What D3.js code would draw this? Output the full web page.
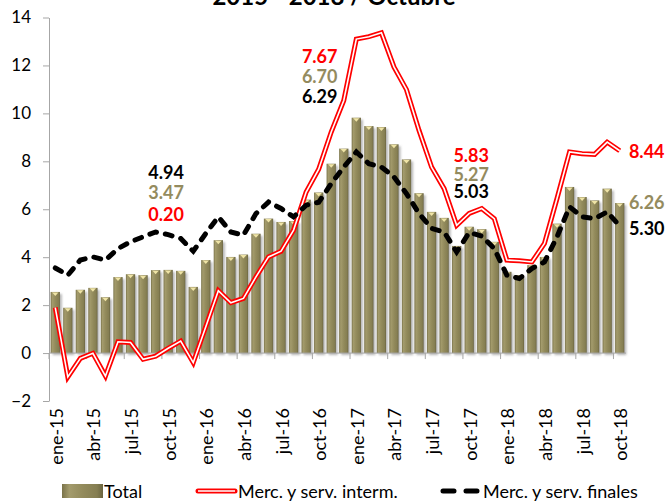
<!DOCTYPE html>
<html>
<head>
<meta charset="utf-8">
<script src="https://cdn.jsdelivr.net/npm/d3@7"></script>
<style>
    body { margin: 0; background: #fff; }
    svg { display: block; font-family: Lato, "Noto Sans", sans-serif; }
    .axis path, .axis line { stroke: #a6a6a6; }
    .axis text { fill: #000; }
</style>
</head>
<body>
<div id="view"></div>
<script>
const categories = [
    'ene-15', 'feb-15', 'mar-15', 'abr-15', 'may-15', 'jun-15', 'jul-15', 'ago-15', 'sep-15', 'oct-15', 'nov-15', 'dic-15',
    'ene-16', 'feb-16', 'mar-16', 'abr-16', 'may-16', 'jun-16', 'jul-16', 'ago-16', 'sep-16', 'oct-16', 'nov-16', 'dic-16',
    'ene-17', 'feb-17', 'mar-17', 'abr-17', 'may-17', 'jun-17', 'jul-17', 'ago-17', 'sep-17', 'oct-17', 'nov-17', 'dic-17',
    'ene-18', 'feb-18', 'mar-18', 'abr-18', 'may-18', 'jun-18', 'jul-18', 'ago-18', 'sep-18', 'oct-18'
];
const tickLabels = ['ene-15', 'abr-15', 'jul-15', 'oct-15', 'ene-16', 'abr-16', 'jul-16', 'oct-16',
    'ene-17', 'abr-17', 'jul-17', 'oct-17', 'ene-18', 'abr-18', 'jul-18', 'oct-18'];
const yTicks = [-2, 0, 2, 4, 6, 8, 10, 12, 14];

const total = [
    2.55, 1.89, 2.64, 2.72, 2.33, 3.17, 3.29, 3.25, 3.46, 3.47, 3.43, 2.76,
    3.88, 4.71, 4.01, 4.11, 4.98, 5.61, 5.47, 5.51, 6.40, 6.70, 7.90, 8.53,
    9.82, 9.47, 9.43, 8.71, 8.08, 6.67, 5.89, 5.64, 4.47, 5.27, 5.17, 4.64,
    3.39, 3.25, 3.67, 4.01, 5.40, 6.93, 6.51, 6.37, 6.86, 6.26
];
const interm = [
    1.90, -1.00, -0.22, -0.01, -0.96, 0.47, 0.44, -0.26, -0.13, 0.20, 0.50, -0.40,
    1.10, 2.60, 2.10, 2.28, 3.18, 4.01, 4.25, 5.13, 6.72, 7.67, 9.22, 10.54,
    13.10, 13.20, 13.36, 11.94, 10.99, 9.29, 7.76, 6.86, 5.33, 5.83, 6.03, 5.61,
    3.88, 3.85, 3.80, 4.57, 6.45, 8.39, 8.32, 8.29, 8.80, 8.44
];
const finales = [
    3.55, 3.25, 3.88, 4.01, 3.88, 4.36, 4.64, 4.85, 5.05, 4.94, 4.78, 4.25,
    4.99, 5.68, 5.05, 4.92, 5.82, 6.30, 6.03, 5.68, 6.17, 6.29, 7.07, 7.76,
    8.39, 7.90, 7.76, 7.35, 6.65, 5.82, 5.20, 5.05, 4.22, 5.03, 4.88, 4.36,
    3.25, 3.11, 3.53, 3.80, 4.85, 6.10, 5.68, 5.61, 5.89, 5.30
];
const seriesNames = ['Total', 'Merc. y serv. interm.', 'Merc. y serv. finales'];
const labelMonths = ['oct-15', 'oct-16', 'oct-17', 'oct-18'];

const TITLE = '2015 - 2018 / Octubre';
const RED = '#ff0000';
const OLIVE_TEXT = '#948b5e';

const width = 668;
const height = 502;
const svg = d3.select('#view').append('svg')
    .attr('width', width)
    .attr('height', height);

const defs = svg.append('defs');
const grad = defs.append('linearGradient').attr('id', 'barGrad')
    .attr('x1', '0%').attr('x2', '100%').attr('y1', '0%').attr('y2', '0%');
[[0, '#7a7349'], [0.18, '#a39b6c'], [0.5, '#938b5c'], [0.85, '#857e52'], [1, '#6a6440']].forEach(s => {
    grad.append('stop').attr('offset', s[0]).attr('stop-color', s[1]);
});
const shadow = defs.append('filter').attr('id', 'shadow')
    .attr('x', '-30%').attr('y', '-10%').attr('width', '180%').attr('height', '130%');
shadow.append('feDropShadow').attr('dx', 2).attr('dy', 2).attr('stdDeviation', 1.3)
    .attr('flood-color', '#7f7f7f').attr('flood-opacity', 0.55);

// scales
const x = d3.scaleBand().domain(categories).range([49, 626]).paddingInner(0.26).paddingOuter(0.13);
const y = d3.scaleLinear().domain([-2, 14]).range([401, 17.5]);
const cx = c => x(c) + x.bandwidth() / 2;
const step = x.step();

// title (cut off at the top, as in the original)
svg.append('text')
    .attr('x', 334).attr('y', 5)
    .attr('text-anchor', 'middle')
    .attr('font-weight', 'bold')
    .attr('font-size', 24)
    .text(TITLE);

// Y axis
svg.append('g')
    .attr('class', 'axis')
    .attr('transform', 'translate(49,0)')
    .call(d3.axisLeft(y).tickValues(yTicks).tickSize(6).tickPadding(12).tickSizeOuter(0))
    .selectAll('text').attr('font-size', 17).attr('font-family', 'Lato');

// bars
const bars = svg.append('g').attr('filter', 'url(#shadow)');
bars.selectAll('rect')
    .data(categories)
    .join('rect')
        .attr('x', c => x(c))
        .attr('y', (c, i) => y(Math.max(0, total[i])))
        .attr('width', x.bandwidth())
        .attr('height', (c, i) => Math.abs(y(total[i]) - y(0)))
        .attr('fill', 'url(#barGrad)');
svg.append('g').selectAll('path')
    .data(categories)
    .join('path')
        .attr('fill', '#efe4a6')
        .attr('d', (c, i) => {
            const x0 = x(c) + 1.5;
            const x1 = x(c) + x.bandwidth() - 1.5;
            const t = y(total[i]) + 0.5;
            return `M${x0},${t}L${x1},${t}L${(x0 + x1) / 2},${t + 3.5}Z`;
        });

// X axis line and ticks
const xAxis = svg.append('g').attr('class', 'axis');
xAxis.append('line')
    .attr('x1', x.range()[0]).attr('x2', x.range()[1])
    .attr('y1', y(0)).attr('y2', y(0));
xAxis.selectAll('line.tick')
    .data(tickLabels)
    .join('line')
        .attr('class', 'tick')
        .attr('x1', c => cx(c) - step / 2).attr('x2', c => cx(c) - step / 2)
        .attr('y1', y(0)).attr('y2', y(0) + 6);
svg.append('g').selectAll('text')
    .data(tickLabels)
    .join('text')
        .attr('transform', c => `translate(${cx(c) + 0.5},408) rotate(-90)`)
        .attr('text-anchor', 'end')
        .attr('dominant-baseline', 'central')
        .attr('font-size', 18)
        .text(c => c);

// lines
const lineGen = data => d3.line()
    .x((d, i) => cx(categories[i]))
    .y(d => y(d))(data);

svg.append('path')
    .attr('d', lineGen(interm))
    .attr('fill', 'none')
    .attr('stroke', RED)
    .attr('stroke-width', 5)
    .attr('stroke-linejoin', 'miter');
svg.append('path')
    .attr('d', lineGen(interm))
    .attr('fill', 'none')
    .attr('stroke', '#fff')
    .attr('stroke-width', 1.6);

svg.append('path')
    .attr('d', lineGen(finales))
    .attr('fill', 'none')
    .attr('stroke', '#000')
    .attr('stroke-width', 5)
    .attr('stroke-linecap', 'round')
    .attr('stroke-dasharray', '7,9');

// value labels for the Octobers
const labelLayout = [
    {dx: -2, rows: [[finales, '#000', -56], [total, OLIVE_TEXT, -36], [interm, RED, -14]], ref: 'max'},
    {dx: 1, rows: [[interm, RED, -106], [total, OLIVE_TEXT, -86], [finales, '#000', -66]], ref: 'max'},
    {dx: 2, rows: [[interm, RED, -51], [total, OLIVE_TEXT, -32], [finales, '#000', -15]], ref: 'max'},
    {dx: 27, rows: [[interm, RED, 7], [total, OLIVE_TEXT, 6], [finales, '#000', 9]], ref: 'own'}
];
const labels = svg.append('g')
    .attr('font-size', 18)
    .attr('font-weight', 'bold')
    .attr('text-anchor', 'middle');
labelMonths.forEach((m, k) => {
    const i = categories.indexOf(m);
    const lay = labelLayout[k];
    const top = Math.max(total[i], interm[i], finales[i]);
    lay.rows.forEach(r => {
        const base = lay.ref == 'max' ? y(top) : y(r[0][i]);
        labels.append('text')
            .attr('x', cx(m) + lay.dx)
            .attr('y', base + r[2])
            .attr('fill', r[1])
            .text(r[0][i].toFixed(2));
    });
});

// legend
const legend = svg.append('g').attr('font-size', 18);
const ly = 491;
legend.append('rect')
    .attr('x', 62).attr('y', ly - 7).attr('width', 41).attr('height', 14)
    .attr('fill', 'url(#barGrad)');
legend.append('text').attr('x', 104).attr('y', ly).attr('dominant-baseline', 'central').text(seriesNames[0]);
legend.append('line')
    .attr('x1', 198).attr('x2', 235).attr('y1', ly).attr('y2', ly)
    .attr('stroke', RED).attr('stroke-width', 5).attr('stroke-linecap', 'round');
legend.append('line')
    .attr('x1', 198).attr('x2', 235).attr('y1', ly).attr('y2', ly)
    .attr('stroke', '#fff').attr('stroke-width', 1.6);
legend.append('text').attr('x', 238).attr('y', ly).attr('dominant-baseline', 'central').text(seriesNames[1]);
legend.append('line')
    .attr('x1', 443).attr('x2', 477).attr('y1', ly).attr('y2', ly)
    .attr('stroke', '#000').attr('stroke-width', 5).attr('stroke-linecap', 'round')
    .attr('stroke-dasharray', '11,12');
legend.append('text').attr('x', 483).attr('y', ly).attr('dominant-baseline', 'central').text(seriesNames[2]);
</script>
</body>
</html>
